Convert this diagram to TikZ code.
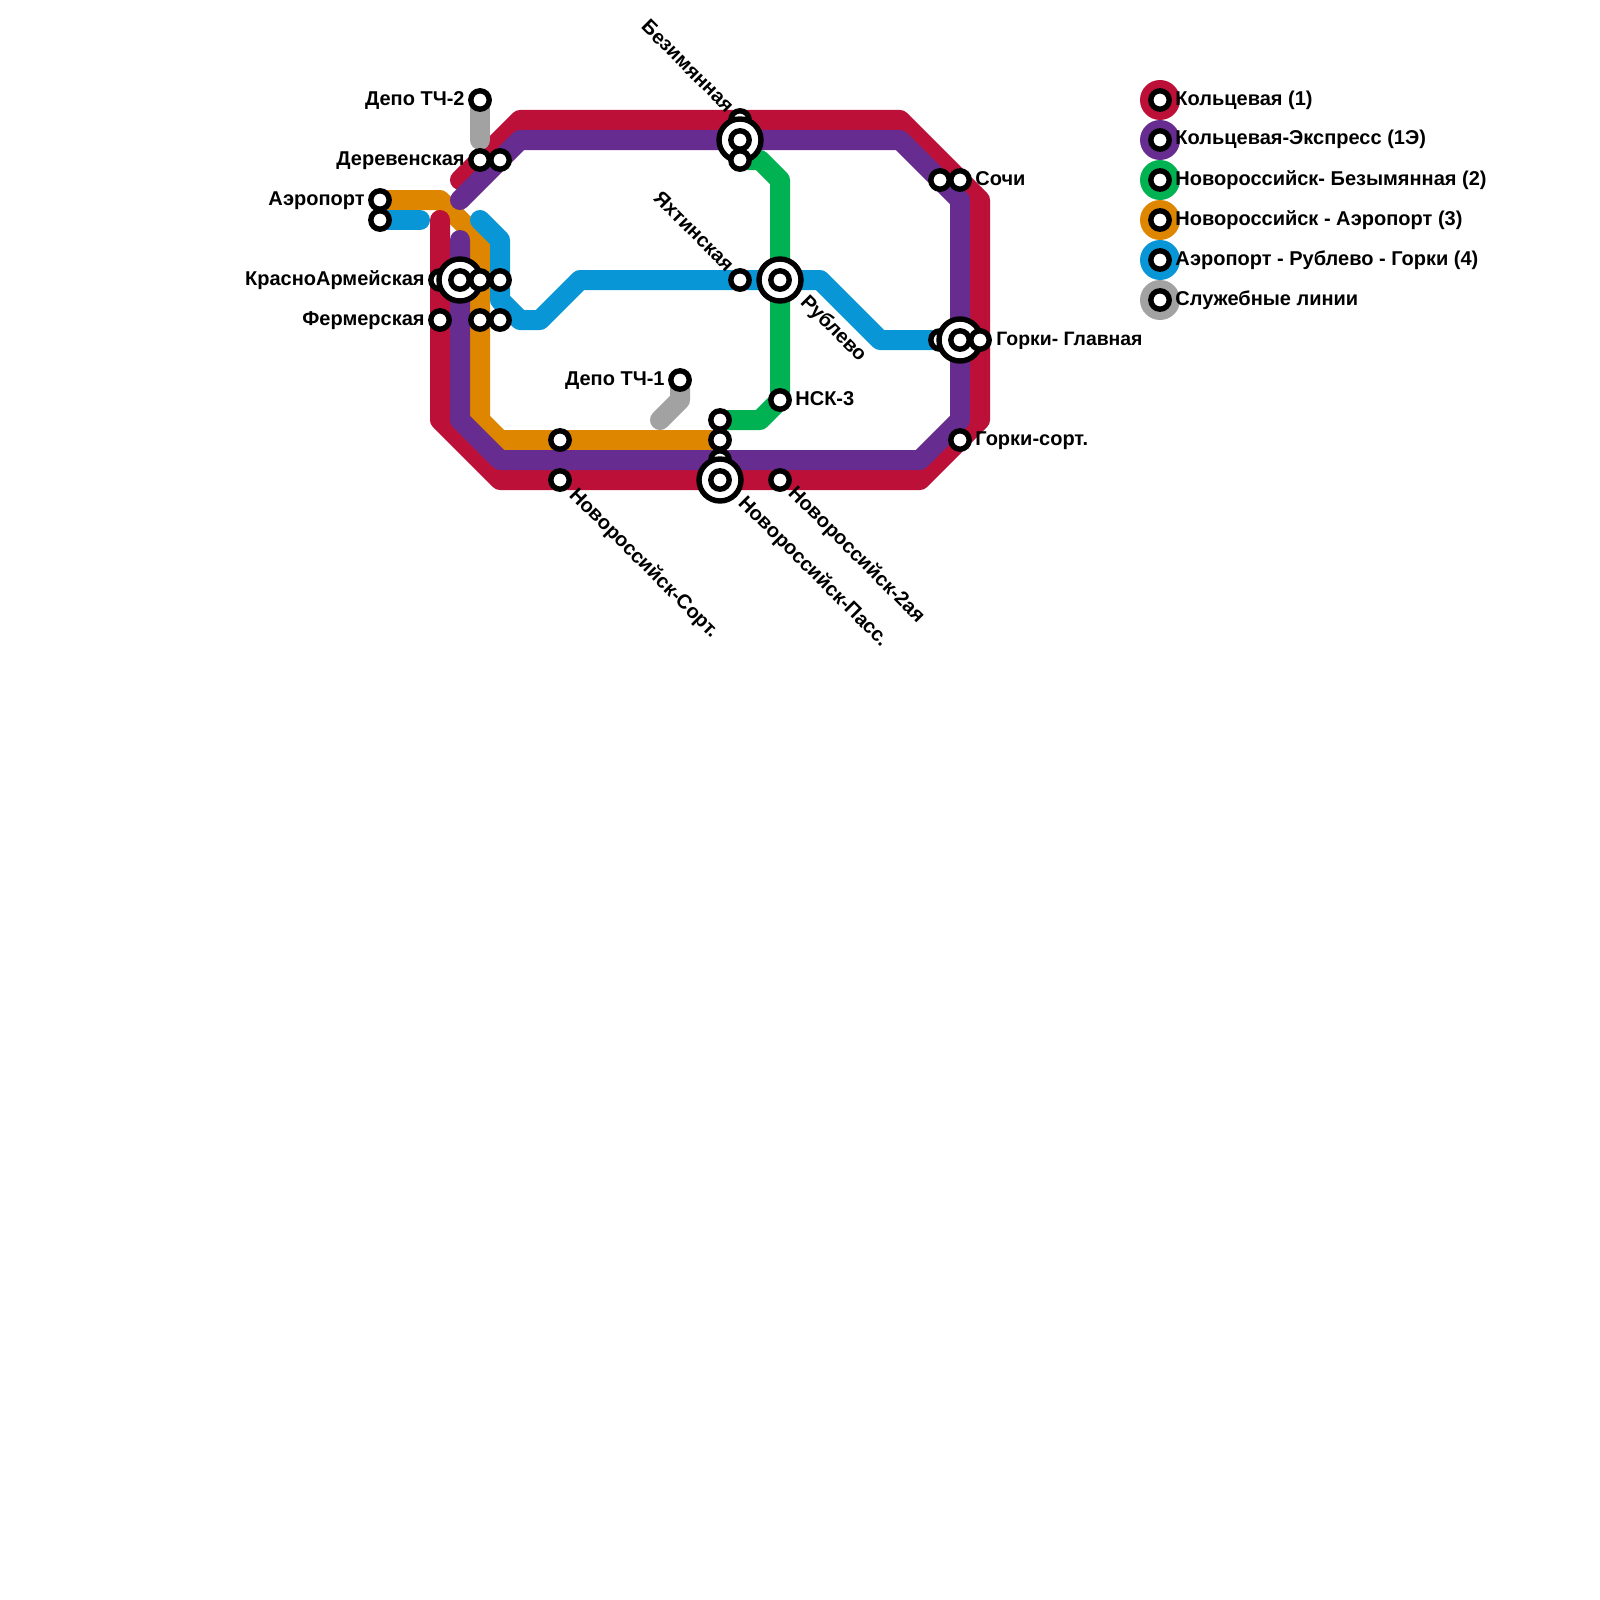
\documentclass[tikz,border=0pt]{standalone}
\usepackage{fontspec}
\setmainfont{Liberation Sans}
\usetikzlibrary{backgrounds}
\definecolor{ringred}{HTML}{BD1038}
\definecolor{ringpurple}{HTML}{662C90}
\definecolor{lineorange}{HTML}{DF8600}
\definecolor{linegreen}{HTML}{00B251}
\definecolor{lineblue}{HTML}{0896D7}
\definecolor{linegrey}{HTML}{A2A2A2}
\tikzset{
  metro/.style={line width=10pt,line cap=round,line join=round},
  stn/.style={circle,draw=black,fill=white,line width=2.7pt,minimum size=9.2pt,inner sep=0pt},
  hub/.style={circle,draw=black,fill=white,line width=2.7pt,minimum size=21pt,inner sep=0pt},
  lbl/.style={font=\bfseries\fontsize{10}{11}\selectfont,inner sep=0pt,text=black},
}
\begin{document}
\begin{tikzpicture}[x=0.5pt,y=-0.5pt]
\useasboundingbox (0,0) rectangle (1600,1600);

% Stations
\node [stn] (depoB) at (480,100) {};
\node [stn] (derevA) at (480,160) {};
\node [stn] (derevB) at (500,160) {};
\node [stn] (aeroA) at (380,200) {};
\node [stn] (aeroB) at (380,220) {};
\node [stn] (krasA) at (440,280) {};
\node [hub] (krasHub) at (460,280) {};
\node [stn] (krasC) at (460,280) {};
\node [stn] (krasD) at (480,280) {};
\node [stn] (krasE) at (500,280) {};
\node [stn] (fermA) at (440,320) {};
\node [stn] (fermB) at (480,320) {};
\node [stn] (fermC) at (500,320) {};
\node [stn] (depoA) at (680,380) {};
\node [stn] (sortA) at (560,440) {};
\node [stn] (sortB) at (560,480) {};
\node [stn] (bezA) at (740,120) {};
\node [hub] (bezHub) at (740,140) {};
\node [stn] (bezC) at (740,140) {};
\node [stn] (bezD) at (740,160) {};
\node [stn] (yakh) at (740,280) {};
\node [hub] (rublHub) at (780,280) {};
\node [stn] (rubl) at (780,280) {};
\node [stn] (nsk) at (780,400) {};
\node [stn] (passA) at (720,420) {};
\node [stn] (passC) at (720,460) {};
\node [stn] (passB) at (720,440) {};
\node [hub] (passHub) at (720,480) {};
\node [stn] (passD) at (720,480) {};
\node [stn] (nov2) at (780,480) {};
\node [stn] (sochiA) at (940,180) {};
\node [stn] (sochiB) at (960,180) {};
\node [stn] (gorkA) at (940,340) {};
\node [hub] (gorkHub) at (960,340) {};
\node [stn] (gorkC) at (960,340) {};
\node [stn] (gorkD) at (980,340) {};
\node [stn] (gorkS) at (960,440) {};

% Bends and free ends
\coordinate (rS) at (460,180);
\coordinate (r1) at (520,120);
\coordinate (r2) at (900,120);
\coordinate (r3) at (980,200);
\coordinate (r4) at (980,420);
\coordinate (r5) at (920,480);
\coordinate (r6) at (500,480);
\coordinate (r7) at (440,420);
\coordinate (rE) at (440,220);
\coordinate (pS) at (460,200);
\coordinate (p1) at (520,140);
\coordinate (p2) at (900,140);
\coordinate (p3) at (960,200);
\coordinate (p4) at (960,420);
\coordinate (p5) at (920,460);
\coordinate (p6) at (500,460);
\coordinate (p7) at (460,420);
\coordinate (pE) at (460,240);
\coordinate (o1) at (440,200);
\coordinate (o2) at (480,240);
\coordinate (o3) at (480,420);
\coordinate (o4) at (500,440);
\coordinate (bE) at (420,220);
\coordinate (bS) at (480,220);
\coordinate (b1) at (500,240);
\coordinate (b2) at (500,300);
\coordinate (b3) at (520,320);
\coordinate (b4) at (540,320);
\coordinate (b5) at (580,280);
\coordinate (b6) at (820,280);
\coordinate (b7) at (880,340);
\coordinate (g1) at (760,160);
\coordinate (g2) at (780,180);
\coordinate (g3) at (760,420);
\coordinate (s1) at (480,140);
\coordinate (s2) at (680,400);
\coordinate (s3) at (660,420);

%Lines
\begin{pgfonlayer}{background}
\draw [metro,lineorange] (aeroA.center) -- (o1) -- (o2) -- (o3) -- (o4) -- (passB.center);
\draw [metro,ringred] (rS) -- (r1) -- (r2) -- (r3) -- (r4) -- (r5) -- (r6) -- (r7) -- (rE);
\draw [metro,ringpurple] (pS) -- (p1) -- (p2) -- (p3) -- (p4) -- (p5) -- (p6) -- (p7) -- (pE);
\draw [metro,lineblue] (aeroB.center) -- (bE);
\draw [metro,lineblue] (bS) -- (b1) -- (b2) -- (b3) -- (b4) -- (b5) -- (b6) -- (b7) -- (gorkA.center);
\draw [metro,linegreen] (bezD.center) -- (g1) -- (g2) -- (nsk.center) -- (g3) -- (passA.center);
\draw [metro,linegrey] (depoB.center) -- (s1);
\draw [metro,linegrey] (depoA.center) -- (s2) -- (s3);
\end{pgfonlayer}

% Labels
\node [lbl,anchor=base east] (tDepoB) at (465,105) {Депо ТЧ-2};
\node [lbl,anchor=base east] (tDerev) at (465,165) {Деревенская};
\node [lbl,anchor=base east] (tAero) at (365,205) {Аэропорт};
\node [lbl,anchor=base east] (tKras) at (425,285) {КрасноАрмейская};
\node [lbl,anchor=base east] (tFerm) at (425,325) {Фермерская};
\node [lbl,anchor=base east] (tDepoA) at (665,385) {Депо ТЧ-1};
\node [lbl,anchor=base west] (tNsk) at (795,405) {НСК-3};
\node [lbl,anchor=base west] (tSochi) at (975,185) {Сочи};
\node [lbl,anchor=base west,font=\bfseries\fontsize{9.7}{11}\selectfont] (tGorkG) at (996,345) {Горки- Главная};
\node [lbl,anchor=base west] (tGorkS) at (975,445) {Горки-сорт.};
\node [lbl,anchor=east,rotate=-45] (tBez) at (731,109) {Безимянная};
\node [lbl,anchor=east,rotate=-45] (tYakh) at (731,268) {Яхтинская};
\node [lbl,anchor=west,rotate=-45] (tRubl) at (803,299) {Рублево};
\node [lbl,anchor=west,rotate=-45] (tSort) at (572,492) {Новороссийск-Сорт.};
\node [lbl,anchor=west,rotate=-45] (tPass) at (741,500) {Новороссийск-Пасс.};
\node [lbl,anchor=west,rotate=-45] (tNov) at (791,490) {Новороссийск-2ая};

% Legend
\foreach \y/\col/\txt in {100/ringred/Кольцевая (1),140/ringpurple/Кольцевая-Экспресс (1Э),180/linegreen/Новороссийск- Безымянная (2),220/lineorange/Новороссийск - Аэропорт (3),260/lineblue/Аэропорт - Рублево - Горки (4),300/linegrey/Служебные линии}{
  \node [circle,fill=\col,minimum size=20pt,inner sep=0pt] (legD\y) at (1160,\y) {};
  \node [stn] (legS\y) at (legD\y) {};
  \node [lbl,anchor=base west] (legT\y) at (1175,\y+5) {\txt};
}
\end{tikzpicture}
\end{document}
